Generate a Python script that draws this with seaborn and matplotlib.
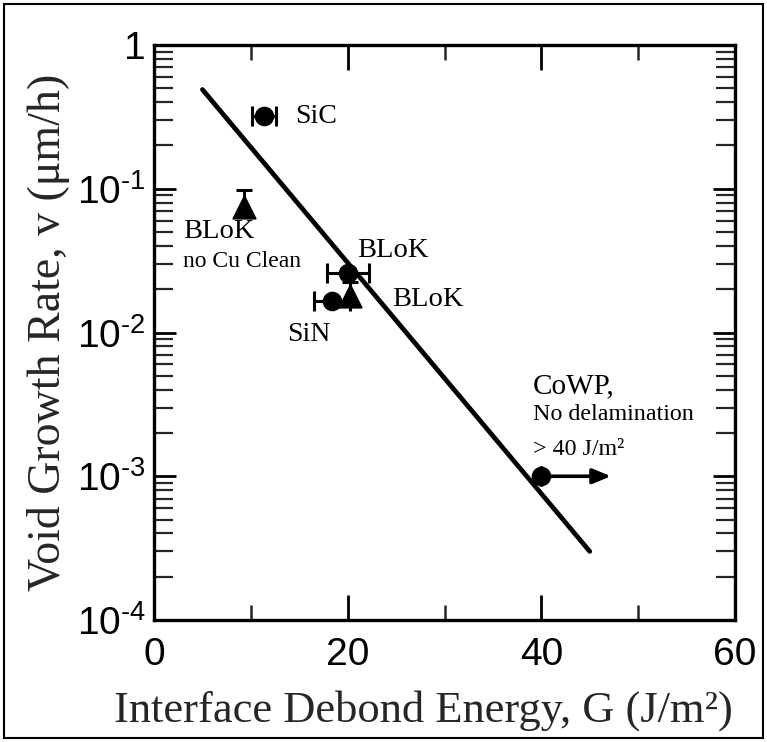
import matplotlib
matplotlib.use("Agg")
import matplotlib.pyplot as plt
import seaborn as sns
import pandas as pd
from matplotlib.patches import Rectangle
from matplotlib.ticker import FixedLocator, FixedFormatter, LogLocator, NullFormatter, MultipleLocator

# ---- data ----
circle_names = ["SiC", "BLoK", "SiN", "CoWP"]
circle_G = [11.4, 20.05, 18.35, 40.0]
circle_v = [0.32, 0.026, 0.0166, 0.001]
circle_xerr = [1.25, 2.2, 1.85, 0.0]

tri_names = ["BLoK no Cu Clean", "BLoK"]
tri_G = [9.25, 20.2]
tri_v = [0.075, 0.018]
tri_yerr_lo = [0.01, 0.002]
tri_yerr_hi = [0.023, 0.0045]

fit_G = [5.0, 45.0]
fit_v = [0.49, 0.0003]

arrow_from_G = 40.0
arrow_to_G = 47.2
arrow_v = 0.001

yticks = [1e-4, 1e-3, 1e-2, 1e-1, 1]
yticklabels = [r"$\mathregular{10^{\text{-}4}}$", r"$\mathregular{10^{\text{-}3}}$",
               r"$\mathregular{10^{\text{-}2}}$", r"$\mathregular{10^{\text{-}1}}$", "1"]
xticks = [0, 20, 40, 60]

sns.set_style("ticks")
plt.rcParams["font.family"] = ["Liberation Sans", "DejaVu Sans"]
plt.rcParams["mathtext.fontset"] = "custom"
plt.rcParams["mathtext.rm"] = "Liberation Sans"
plt.rcParams["mathtext.it"] = "Liberation Sans"

fig = plt.figure(figsize=(7.67, 7.42), dpi=100)
ax = fig.add_axes([154/767, 1 - 620/742, (735-154)/767, (620-45)/742])

circ = pd.DataFrame({"G": circle_G, "v": circle_v, "name": circle_names})
tri = pd.DataFrame({"G": tri_G, "v": tri_v, "name": tri_names})
fit = pd.DataFrame({"G": fit_G, "v": fit_v})

sns.lineplot(data=fit, x="G", y="v", ax=ax, color="black", lw=3.4, zorder=3)

ax.errorbar(circle_G, circle_v, xerr=circle_xerr, fmt="none", ecolor="black",
            elinewidth=2.2, capsize=7, capthick=2.2, zorder=4)
ax.errorbar(tri_G, tri_v, yerr=[tri_yerr_lo, tri_yerr_hi], fmt="none", ecolor="black",
            elinewidth=2.2, capsize=6, capthick=2.2, zorder=4)
sns.scatterplot(data=circ, x="G", y="v", ax=ax, marker="o", s=170, color="black",
                edgecolor="black", zorder=5, legend=False)
sns.scatterplot(data=tri, x="G", y="v", ax=ax, marker="^", s=260, color="black",
                edgecolor="black", zorder=5, legend=False)

ax.annotate("", xy=(arrow_to_G, arrow_v), xytext=(arrow_from_G, arrow_v),
            arrowprops=dict(arrowstyle="-|>,head_length=1.1,head_width=0.45",
                            color="black", lw=2.6, shrinkA=0, shrinkB=0), zorder=4)

ax.set_yscale("log")
ax.set_xlim(0, 60)
ax.set_ylim(1e-4, 1)

ax.yaxis.set_major_locator(FixedLocator(yticks))
ax.yaxis.set_major_formatter(FixedFormatter(yticklabels))
ax.yaxis.set_minor_locator(LogLocator(base=10, subs=range(2, 10), numticks=20))
ax.yaxis.set_minor_formatter(NullFormatter())
ax.xaxis.set_major_locator(FixedLocator(xticks))
ax.xaxis.set_minor_locator(MultipleLocator(10))

ax.tick_params(axis="x", which="major", direction="in", length=18, width=2, top=True,
               labelsize=28, pad=12, colors="black")
ax.tick_params(axis="x", which="minor", direction="in", length=11, width=1.8, top=True)
ax.tick_params(axis="y", which="major", direction="in", length=16, width=2, right=True,
               labelsize=28, pad=6, colors="black")
ax.tick_params(axis="y", which="minor", direction="in", length=14, width=1.6, right=True)
for s in ax.spines.values():
    s.set_linewidth(2.4)
    s.set_color("black")

serif = ["Liberation Serif", "DejaVu Serif"]
ax.set_xlabel("Interface Debond Energy, G (J/m\u00b2)", fontsize=32, family=serif)
ax.set_ylabel("Void Growth Rate, v (\u03bcm/h)", fontsize=33, family=serif)
ax.xaxis.set_label_coords(0.463, -0.122)
ax.yaxis.set_label_coords(-0.145, 0.5)

tk = dict(family=serif, color="black", va="baseline", ha="left")
ax.text(14.56, 0.2867, "SiC", fontsize=20, **tk)
ax.text(3.0, 0.0454, "BLoK", fontsize=20.5, **tk)
ax.text(3.0, 0.0286, "no Cu Clean", fontsize=17, **tk)
ax.text(20.96, 0.0335, "BLoK", fontsize=20.5, **tk)
ax.text(24.58, 0.0153, "BLoK", fontsize=20.5, **tk)
ax.text(13.74, 0.0087, "SiN", fontsize=20, **tk)
ax.text(39.15, 0.00379, "CoWP,", fontsize=21, **tk)
ax.text(39.15, 0.00246, "No delamination", fontsize=17.3, **tk)
ax.text(39.15, 0.00141, "> 40 J/m\u00b2", fontsize=17.3, **tk)

fig.patches.append(Rectangle((4/767, 4/742), 759/767, 734/742, transform=fig.transFigure,
                             fill=False, edgecolor="black", lw=1.5))

fig.savefig("out.png", dpi=100, facecolor="white")
